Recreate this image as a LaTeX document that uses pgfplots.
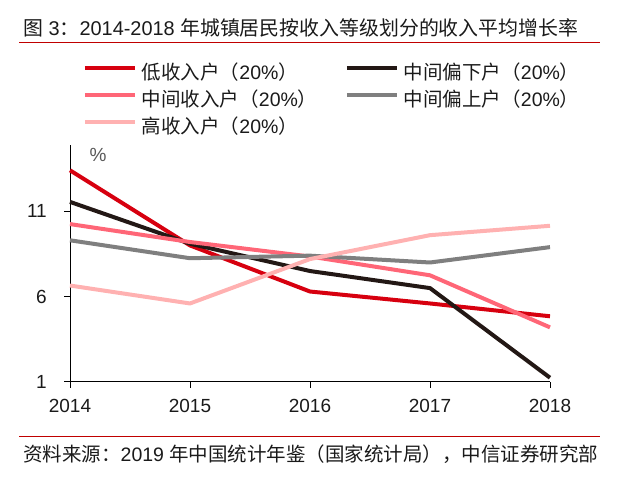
\documentclass[border=0pt]{standalone}
\usepackage{fontspec}
\setmainfont{Liberation Sans}
\newfontfamily\cjk{Noto Sans CJK SC}
\usepackage{pgfplots}
\pgfplotsset{compat=1.18}

\definecolor{cLow}{HTML}{D7000F}
\definecolor{cMidLow}{HTML}{231815}
\definecolor{cMid}{HTML}{FF6677}
\definecolor{cMidHigh}{HTML}{7F7F7F}
\definecolor{cHigh}{HTML}{FFB1B1}
\definecolor{cRule}{HTML}{C00000}
\definecolor{cText}{HTML}{1A1A1A}

\newcommand{\fs}{\fontsize{19.5}{22}\selectfont}
\newcommand{\entry}[1]{{\cjk #1（}20\%{\cjk ）}}

\begin{document}
\begin{tikzpicture}[x=1pt,y=1pt]
\useasboundingbox (0,0) rectangle (627,492);

\node[anchor=base west, inner sep=0pt, font=\fontsize{19.9}{22}\selectfont, text=cText] at (23,456.5)
  {{\cjk 图} 3{\cjk ：}2014-2018 {\cjk 年城镇居民按收入等级划分的收入平均增长率}};
\draw[cRule, line width=1pt] (19,449.3) -- (600,449.3);

\begin{axis}[
  at={(70pt,110pt)}, anchor=south west,
  scale only axis, width=480pt, height=237.3pt,
  xmin=2014, xmax=2018, ymin=1, ymax=14.9,
  axis x line*=bottom, axis y line*=left,
  axis line style={-, line width=1pt, black},
  xtick={2014,2015,2016,2017,2018},
  xticklabels={2014,2015,2016,2017,2018},
  ytick={1,6,11}, yticklabels={1,6,11},
  tick align=outside, major tick length=6pt,
  tick style={black, line width=1pt},
  ticklabel style={font=\fontsize{19}{19}\selectfont, text=cText},
  yticklabel style={anchor=east, inner sep=0pt, xshift=-17pt},
  xticklabel style={anchor=north, inner sep=0pt, yshift=-11pt},
  clip=false,
  every axis plot/.append style={line width=4pt, line join=round},
  legend columns=2,
  legend cell align=left,
  legend image code/.code={\draw[#1] (0pt,7.3pt) -- (50pt,7.3pt);},
  legend style={at={(0.0265,1.352)}, anchor=north west,
    draw=none, fill=none, inner sep=0pt, font=\fs, text=cText,
    row sep=0pt,
    nodes={inner sep=0pt, text height=18pt, text depth=9pt},
    /tikz/every odd column/.append style={column sep=5pt},
    /tikz/every even column/.append style={column sep=27.5pt}},
]
\addplot[cLow] coordinates {(2014,13.4) (2015,9.0) (2016,6.3) (2017,5.6) (2018,4.85)};
\addlegendentry{\entry{低收入户}}
\addplot[cMidLow] coordinates {(2014,11.55) (2015,9.1) (2016,7.5) (2017,6.5) (2018,1.25)};
\addlegendentry{\entry{中间偏下户}}
\addplot[cMid] coordinates {(2014,10.25) (2015,9.2) (2016,8.35) (2017,7.25) (2018,4.2)};
\addlegendentry{\entry{中间收入户}}
\addplot[cMidHigh] coordinates {(2014,9.3) (2015,8.25) (2016,8.4) (2017,8.0) (2018,8.9)};
\addlegendentry{\entry{中间偏上户}}
\addplot[cHigh] coordinates {(2014,6.65) (2015,5.6) (2016,8.2) (2017,9.6) (2018,10.15)};
\addlegendentry{\entry{高收入户}}
\end{axis}

\node[font=\fontsize{19}{19}\selectfont, text=black!65, inner sep=0pt] at (98,337) {\%};

\draw[cRule, line width=1pt] (19,55.7) -- (600,55.7);
\node[anchor=base west, inner sep=0pt, font=\fs, text=cText] at (23,30.5)
  {{\cjk 资料来源：}2019 {\cjk 年中国统计年鉴（国家统计局），中信证券研究部}};
\end{tikzpicture}
\end{document}
